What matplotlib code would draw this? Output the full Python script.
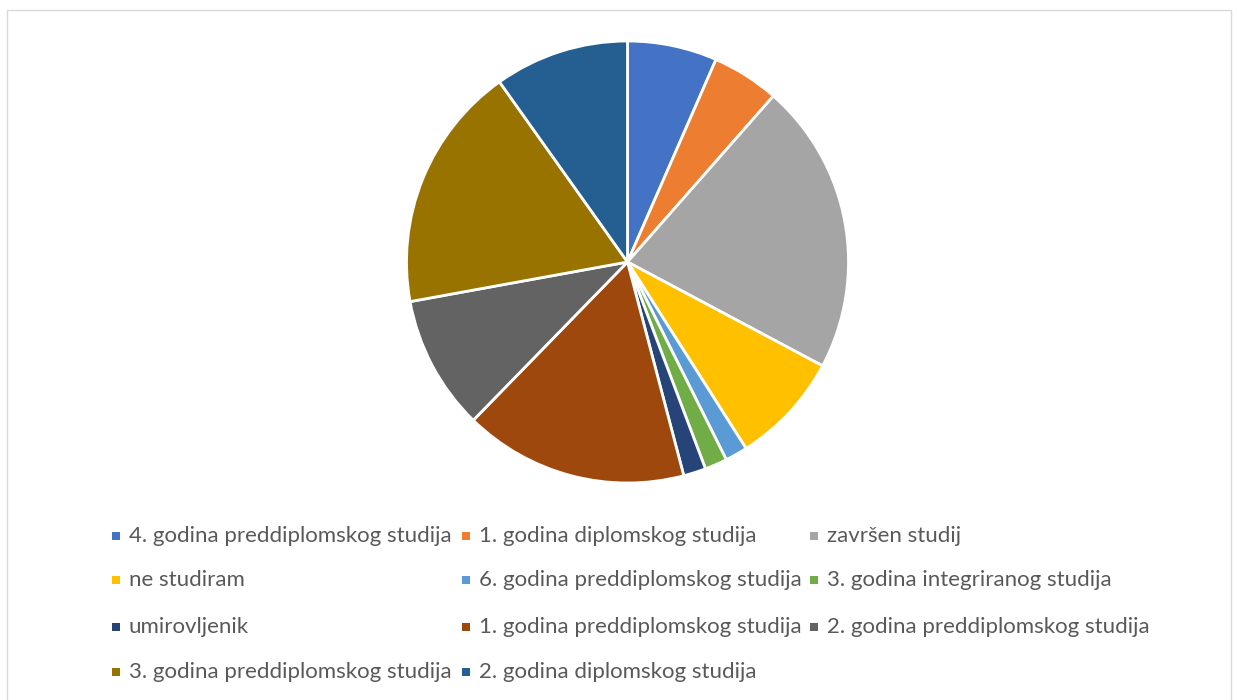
import matplotlib
matplotlib.use("Agg")
import matplotlib.pyplot as plt
from matplotlib.patches import Rectangle

labels = ["4. godina preddiplomskog studija", "1. godina diplomskog studija", "završen studij",
          "ne studiram", "6. godina preddiplomskog studija", "3. godina integriranog studija",
          "umirovljenik", "1. godina preddiplomskog studija", "2. godina preddiplomskog studija",
          "3. godina preddiplomskog studija", "2. godina diplomskog studija"]
values = [4, 3, 13, 5, 1, 1, 1, 10, 6, 11, 6]
colors = ["#4472C4", "#ED7D31", "#A5A5A5", "#FFC000", "#5B9BD5", "#70AD47",
          "#264478", "#9E480E", "#636363", "#997300", "#255E91"]

W, H = 1238, 700
fig = plt.figure(figsize=(W/100, H/100), dpi=100)
fig.patch.set_facecolor("white")

# outer frame
fig.patches.append(Rectangle((7/W, -2/H), (1231-7)/W, 692/H, transform=fig.transFigure,
                             fill=False, edgecolor="#D9D9D9", linewidth=1.0))

cx, cy, r = 627.5, 262, 221
ax = fig.add_axes([(cx-r)/W, (H-cy-r)/H, 2*r/W, 2*r/H])
ax.pie(values, colors=colors, startangle=90, counterclock=False, radius=1,
       wedgeprops=dict(edgecolor="white", linewidth=2.0))
ax.set_xlim(-1, 1)
ax.set_ylim(-1, 1)
ax.set_aspect("equal")
ax.axis("off")

# legend, 3 columns
col_x = [116, 466, 814]
row_y = [536, 580, 627, 672]
for i, (lab, col) in enumerate(zip(labels, colors)):
    rr, cc = divmod(i, 3)
    x, y = col_x[cc], row_y[rr]
    fig.patches.append(Rectangle(((x-4)/W, (H-y-4)/H), 8/W, 8/H, transform=fig.transFigure,
                                 facecolor=col, edgecolor="none"))
    fig.text((x+13)/W, (H-y)/H, lab, fontsize=16, color="#595959", family=["Lato", "DejaVu Sans"],
             va="center", ha="left")

fig.savefig("out.png", dpi=100, facecolor="white")
